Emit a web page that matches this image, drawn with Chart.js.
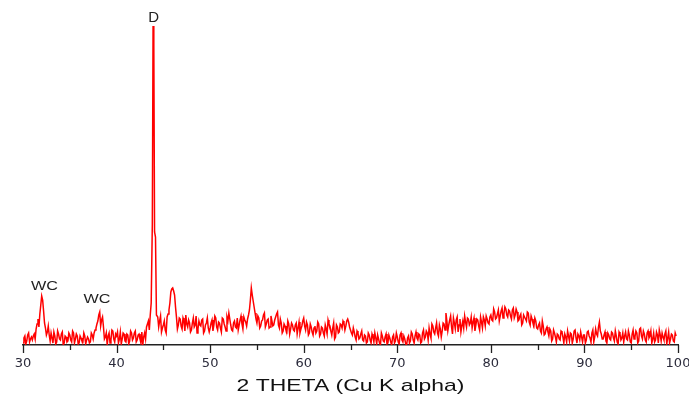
<!DOCTYPE html>
<html>
<head>
<meta charset="utf-8">
<script src="https://cdn.jsdelivr.net/npm/chart.js@4.4.1/dist/chart.umd.min.js"></script>
<style>
html, body { margin: 0; padding: 0; background: #fff; }
#wrap { position: relative; width: 689px; height: 400px; }
</style>
</head>
<body>
<div id="wrap"><canvas id="xrd"></canvas></div>
<script>
// scan: 2-theta from 30 in 0.2 deg steps (two interleaved passes), intensity in counts
const angleStep = 0.2;
const startAngle = 30;
const counts = [
	2, 9, 4, 12, 6,     5, 11, 16, 26, 31,   49, 34, 17, 13, 10,  12, 2, 9, 3, 11,
	5, 13, 2, 8, 4,     10, 3, 12, 6, 9,     2, 7, 3, 9, 5,       6, 3, 10, 12, 17,
	24, 33, 25, 18, 8,  0, 12, 5, 14, 3,     9, 2, 13, 6, 11,     3, 10, 4, 12, 7,
	14, 5, 11, 2, 0,    12, 18, 24, 30, 45,  319, 110, 28, 24, 13, 20, 15, 28, 35, 53,
	57, 50, 28, 20, 26, 16, 24, 30, 18, 22,  15, 27, 20, 12, 24,  19, 26, 14, 22, 17,
	17, 25, 20, 27, 15, 22, 13, 26, 18, 28,  32, 20, 14, 24, 17,  15, 25, 21, 28, 23,
	26, 35, 57, 44, 32, 22, 27, 19, 25, 32,  21, 26, 18, 24, 20,  28, 33, 17, 22, 14,
	19, 13, 21, 16, 20, 14, 22, 17, 12, 19,  27, 15, 20, 12, 18,  10, 19, 14, 21, 11,
	17, 9, 16, 25, 19,  10, 22, 8, 18, 13,   20, 24, 15, 24, 23,  15, 10, 13, 5, 12,
	7, 14, 4, 9, 3,     10, 2, 8, 12, 1,     6, 0, 9, 3, 11,      2, 7, 0, 10, 4,
	8, 1, 12, 3, 6,     0, 9, 4, 11, 2,      13, 5, 10, 3, 15,    8, 12, 17, 7, 19,
	11, 22, 9, 16, 14,  21, 32, 14, 25, 18,  27, 16, 28, 20, 13,  24, 29, 18, 26, 22,
	17, 27, 20, 25, 15, 23, 28, 19, 26, 21,  30, 24, 33, 27, 35,  29, 37, 31, 36, 28,
	34, 26, 37, 30, 33, 25, 31, 22, 28, 24,  32, 20, 26, 19, 24,  16, 22, 12, 19, 11,
	18, 9, 14, 6, 12,   3, 10, 5, 13, 2,     8, 14, 4, 11, 6,     15, 2, 9, 13, 3,
	10, 5, 14, 7, 12,   3, 16, 9, 23, 11,    6, 13, 2, 10, 5,     12, 4, 9, 1, 11,
	7, 3, 13, 5, 10,    2, 15, 8, 12, 4,     17, 6, 11, 3, 14,    9, 2, 12, 5, 10,
	15, 4, 8, 11, 1,    13, 6, 10, 3, 9
];
// second pass, offset by half a step (30.1, 30.3, ...)
const startAngleMid = 30.1;
const countsMid = [
	7, 1, 10, 3, 8,     9, 6, 21, 18, 40,    45, 22, 10, 19, 4,   7, 13, 1, 14, 6,
	11, 0, 9, 3, 12,    5, 14, 2, 11, 1,     9, 4, 12, 1, 8,      2, 12, 6, 15, 21,
	30, 19, 28, 6, 12,  9, 2, 15, 6, 11,     13, 6, 1, 12, 4,     11, 1, 14, 5, 12,
	3, 10, 6, 13, 8,    6, 21, 15, 0, 0,     0, 0, 18, 29, 17,    24, 12, 31, 42, 56,
	54, 38, 16, 27, 19, 27, 14, 21, 25, 13,  22, 18, 29, 16, 20,  25, 12, 20, 27, 13,
	22, 14, 29, 18, 23, 17, 27, 21, 14, 24,  26, 15, 22, 18, 27,  20, 29, 16, 25, 19,
	30, 45, 50, 38, 26, 29, 17, 24, 30, 18,  25, 17, 29, 19, 25,  31, 20, 26, 12, 21,
	15, 24, 11, 22, 15, 20, 11, 23, 16, 24,  19, 23, 10, 21, 13,  17, 12, 23, 9, 18,
	12, 20, 11, 21, 14, 17, 6, 20, 12, 21,   17, 22, 19, 26, 18,  12, 17, 8, 14, 6,
	11, 5, 10, 2, 12,   5, 11, 3, 7, 10,     2, 12, 4, 8, 1,      10, 3, 8, 2, 12,
	3, 10, 5, 9, 1,     7, 2, 13, 5, 9,      7, 11, 2, 12, 6,     14, 5, 11, 21, 13,
	17, 12, 20, 8, 22,  15, 24, 20, 29, 11,  22, 25, 13, 26, 19,  17, 23, 27, 20, 28,
	23, 14, 26, 19, 28, 17, 25, 29, 22, 28,  25, 36, 26, 31, 24,  34, 27, 38, 30, 35,
	29, 35, 27, 36, 24, 29, 20, 30, 26, 33,  23, 29, 22, 27, 17,  20, 14, 24, 10, 16,
	13, 16, 4, 15, 8,   11, 6, 14, 8, 11,    3, 9, 12, 2, 14,     7, 11, 5, 8, 10,
	2, 13, 9, 3, 15,    8, 11, 18, 14, 6,    10, 4, 12, 6, 13,    7, 14, 3, 13, 5,
	12, 9, 6, 14, 3,    11, 6, 14, 2, 16,    9, 14, 5, 12, 7,     14, 6, 3, 13, 2,
	10, 12, 5, 14, 7,   2, 11, 4, 12
];

// the diamond reflection is sharper than the scan step, finer points here
const peakAngles = [43.7, 43.82, 43.9, 43.98, 44.06, 44.16, 44.26];
const peakCounts = [42, 120, 319, 300, 113, 108, 30];

const xTicks = [30, 35, 40, 45, 50, 55, 60, 65, 70, 75, 80, 85, 90, 95, 100];

const peakLabels = ["WC", "WC", "D"];
const peakLabelAngles = [32.3, 37.9, 43.97];
const peakLabelCounts = [58, 45, 327];

const axisTitle = "2 THETA (Cu K alpha)";

// build points
const toPoints = (arr, start) =>
	arr.map((c, i) => ({ x: Math.round((start + i * angleStep) * 100) / 100, y: c }));
let points = toPoints(counts, startAngle)
	.concat(toPoints(countsMid, startAngleMid))
	.filter((p) => p.x < 43.65 || p.x > 44.35);
peakAngles.forEach((a, i) => points.push({ x: a, y: peakCounts[i] }));
points.sort((a, b) => a.x - b.x);

const decor = {
	id: "decor",
	afterDraw(chart) {
		const ctx = chart.ctx;
		const x = chart.scales.x;
		const y = chart.scales.y;
		ctx.save();

		// major / minor tick marks
		ctx.strokeStyle = "#222";
		ctx.lineWidth = 1.3;
		xTicks.forEach((v) => {
			const px = Math.round(x.getPixelForValue(v)) + 0.5;
			const len = v % 10 === 0 ? 8 : 5;
			ctx.beginPath();
			ctx.moveTo(px, x.top);
			ctx.lineTo(px, x.top + len);
			ctx.stroke();
		});

		// phase labels
		ctx.fillStyle = "#222";
		ctx.textAlign = "center";
		ctx.textBaseline = "middle";
		peakLabels.forEach((t, i) => {
			const px = x.getPixelForValue(peakLabelAngles[i]);
			const py = y.getPixelForValue(peakLabelCounts[i]);
			ctx.save();
			ctx.translate(px, py);
			if (t === "D") {
				ctx.font = "15px 'Liberation Sans'";
			} else {
				ctx.font = "12px 'Liberation Sans'";
				ctx.scale(1.35, 1);
			}
			ctx.fillText(t, 0, 0);
			ctx.restore();
		});

		// axis title
		const area = chart.chartArea;
		ctx.save();
		ctx.translate((area.left + area.right) / 2, 386);
		ctx.scale(1.35, 1);
		ctx.font = "17px 'Liberation Sans'";
		ctx.fillStyle = "#111";
		ctx.fillText(axisTitle, 0, 0);
		ctx.restore();

		ctx.restore();
	},
};

new Chart(document.getElementById("xrd"), {
	type: "line",
	data: {
		datasets: [
			{
				data: points,
				borderColor: "#ff0000",
				borderWidth: 1.5,
				pointRadius: 0,
				tension: 0,
				fill: false,
			},
		],
	},
	options: {
		responsive: true,
		maintainAspectRatio: false,
		animation: false,
		layout: { padding: { top: 10, left: 23, right: 11, bottom: 0 } },
		plugins: {
			legend: { display: false },
			tooltip: { enabled: false },
		},
		scales: {
			x: {
				type: "linear",
				min: 30,
				max: 100,
				afterFit: (s) => {
					s.height = 55;
					s.paddingLeft = 0;
					s.paddingRight = 0;
				},
				grid: {
					display: true,
					drawOnChartArea: false,
					color: "rgba(0,0,0,0)",
					tickLength: 8,
				},
				border: { display: true, color: "#222", width: 1.5 },
				ticks: {
					stepSize: 5,
					autoSkip: false,
					maxRotation: 0,
					padding: 3,
					color: "#2b2b3b",
					font: { family: "'DejaVu Sans'", size: 13 },
					callback: (v) => (v % 10 === 0 ? v : ""),
				},
			},
			y: { display: false, min: 0, max: 335 },
		},
	},
	plugins: [decor],
});
</script>
</body>
</html>
